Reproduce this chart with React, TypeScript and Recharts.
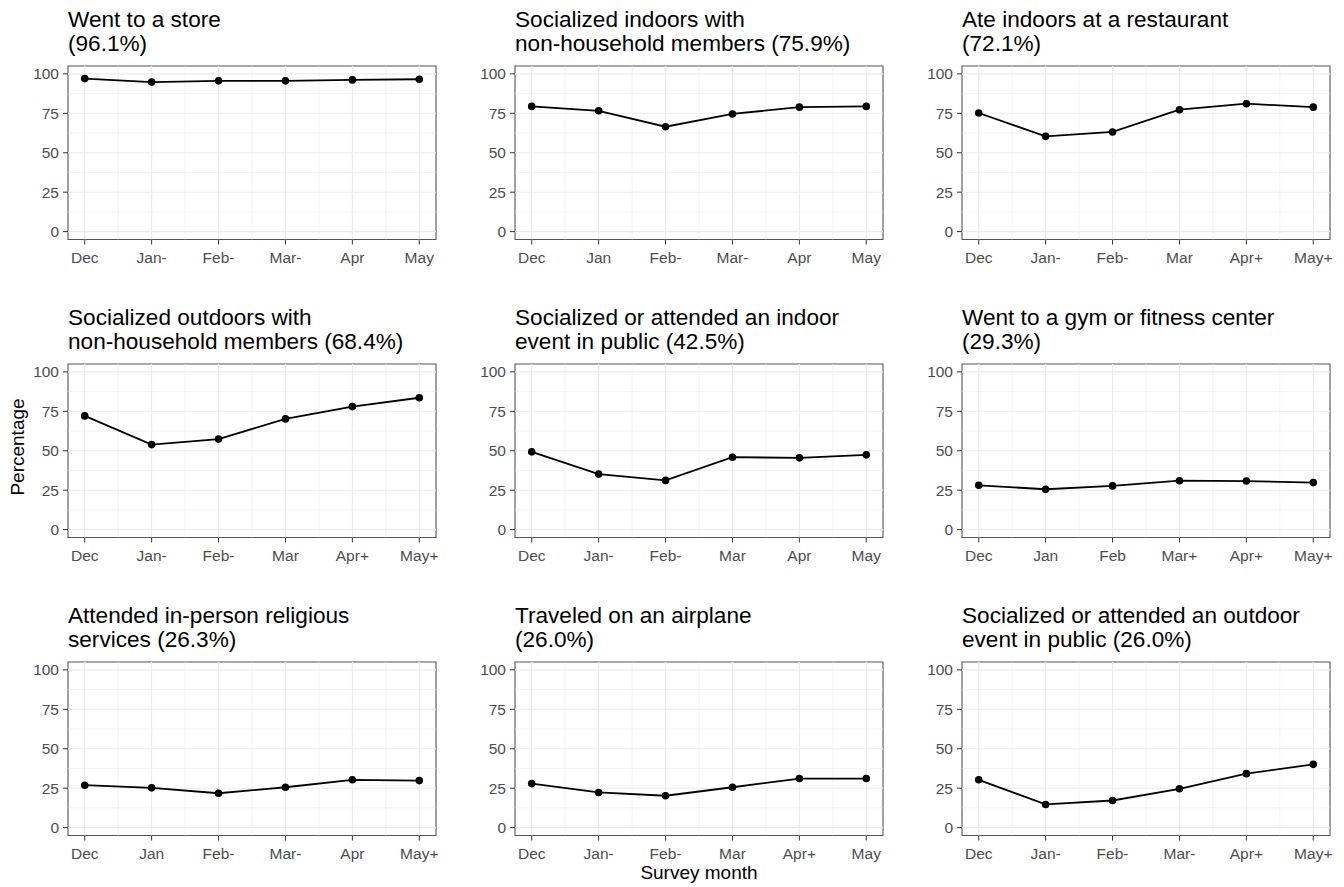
import React from 'react';
import { LineChart, Line, XAxis, YAxis, ReferenceLine, ReferenceArea } from 'recharts';

const FONT = '"Liberation Sans", Arial, Helvetica, sans-serif';

const MONTH_POS = [1, 2, 3, 4, 5, 6];
const Y_TICKS = [0, 25, 50, 75, 100];
const Y_MINOR = [12.5, 37.5, 62.5, 87.5];
const X_MINOR = [1.5, 2.5, 3.5, 4.5, 5.5];

const TITLES_LINE1 = [
  'Went to a store',
  'Socialized indoors with',
  'Ate indoors at a restaurant',
  'Socialized outdoors with',
  'Socialized or attended an indoor',
  'Went to a gym or fitness center',
  'Attended in-person religious',
  'Traveled on an airplane',
  'Socialized or attended an outdoor',
];
const TITLES_LINE2 = [
  '(96.1%)',
  'non-household members (75.9%)',
  '(72.1%)',
  'non-household members (68.4%)',
  'event in public (42.5%)',
  '(29.3%)',
  'services (26.3%)',
  '(26.0%)',
  'event in public (26.0%)',
];

const LABELS_STORE = ['Dec', 'Jan-', 'Feb-', 'Mar-', 'Apr', 'May'];
const LABELS_INDOORS = ['Dec', 'Jan', 'Feb-', 'Mar-', 'Apr', 'May'];
const LABELS_RESTAURANT = ['Dec', 'Jan-', 'Feb-', 'Mar', 'Apr+', 'May+'];
const LABELS_OUTDOORS = ['Dec', 'Jan-', 'Feb-', 'Mar', 'Apr+', 'May+'];
const LABELS_INDOOR_EVENT = ['Dec', 'Jan-', 'Feb-', 'Mar', 'Apr', 'May'];
const LABELS_GYM = ['Dec', 'Jan', 'Feb', 'Mar+', 'Apr+', 'May+'];
const LABELS_RELIGIOUS = ['Dec', 'Jan', 'Feb-', 'Mar-', 'Apr', 'May+'];
const LABELS_AIRPLANE = ['Dec', 'Jan-', 'Feb-', 'Mar', 'Apr+', 'May'];
const LABELS_OUTDOOR_EVENT = ['Dec', 'Jan-', 'Feb-', 'Mar-', 'Apr+', 'May+'];

const VALUES_STORE = [97.0, 94.8, 95.6, 95.6, 96.2, 96.6];
const VALUES_INDOORS = [79.4, 76.6, 66.5, 74.6, 78.9, 79.4];
const VALUES_RESTAURANT = [75.2, 60.4, 63.2, 77.3, 81.1, 78.9];
const VALUES_OUTDOORS = [72.1, 53.9, 57.4, 70.2, 78.0, 83.6];
const VALUES_INDOOR_EVENT = [49.3, 35.2, 31.2, 45.9, 45.5, 47.4];
const VALUES_GYM = [28.1, 25.6, 27.7, 31.0, 30.8, 29.8];
const VALUES_RELIGIOUS = [26.9, 25.2, 21.8, 25.6, 30.3, 29.8];
const VALUES_AIRPLANE = [27.9, 22.3, 20.2, 25.6, 31.1, 31.1];
const VALUES_OUTDOOR_EVENT = [30.3, 14.7, 17.2, 24.6, 34.2, 40.1];

const PANEL_LABELS = [
  LABELS_STORE, LABELS_INDOORS, LABELS_RESTAURANT,
  LABELS_OUTDOORS, LABELS_INDOOR_EVENT, LABELS_GYM,
  LABELS_RELIGIOUS, LABELS_AIRPLANE, LABELS_OUTDOOR_EVENT,
];
const PANEL_VALUES = [
  VALUES_STORE, VALUES_INDOORS, VALUES_RESTAURANT,
  VALUES_OUTDOORS, VALUES_INDOOR_EVENT, VALUES_GYM,
  VALUES_RELIGIOUS, VALUES_AIRPLANE, VALUES_OUTDOOR_EVENT,
];

const COL_LEFT = [68, 515, 962];
const ROW_TOP = [66, 364, 662];
const PLOT_W = 368;
const PLOT_H = 173.5;
const Y_AXIS_W = 60;
const X_AXIS_H = 35;
const M_TOP = 5;
const M_RIGHT = 5;

const GRID = '#ebebeb';
const INK = '#333333';
const TICK_FONT = 15.5;

function Panel({ idx }: { idx: number }) {
  const col = idx % 3;
  const row = Math.floor(idx / 3);
  const labels = PANEL_LABELS[idx];
  const values = PANEL_VALUES[idx];
  const data = MONTH_POS.map((x, i) => ({ x, v: values[i] }));
  const left = COL_LEFT[col] - Y_AXIS_W;
  const top = ROW_TOP[row] - M_TOP;
  return (
    <div style={{ position: 'absolute', left, top }}>
      <LineChart
        width={Y_AXIS_W + PLOT_W + M_RIGHT}
        height={M_TOP + PLOT_H + X_AXIS_H}
        data={data}
        margin={{ top: M_TOP, right: M_RIGHT, left: 0, bottom: 0 }}
      >
        <XAxis
          dataKey="x"
          type="number"
          domain={[0.75, 6.25]}
          ticks={MONTH_POS}
          interval={0}
          allowDataOverflow
          height={X_AXIS_H}
          axisLine={false}
          tickLine={{ stroke: INK, strokeWidth: 1 }}
          tickSize={5}
          tickMargin={7}
          tickFormatter={(v: number) => labels[v - 1]}
          tick={{ fill: '#4d4d4d', fontSize: TICK_FONT, fontFamily: FONT }}
        />
        <YAxis
          type="number"
          domain={[-5, 105]}
          ticks={Y_TICKS}
          interval={0}
          allowDataOverflow
          width={Y_AXIS_W}
          axisLine={false}
          tickLine={{ stroke: INK, strokeWidth: 1 }}
          tickSize={5}
          tickMargin={4}
          tick={{ fill: '#4d4d4d', fontSize: TICK_FONT, fontFamily: FONT }}
        />
        {Y_MINOR.map((y) => (
          <ReferenceLine key={'ym' + y} y={y} stroke={GRID} strokeWidth={0.6} />
        ))}
        {X_MINOR.map((x) => (
          <ReferenceLine key={'xm' + x} x={x} stroke={GRID} strokeWidth={0.6} />
        ))}
        {Y_TICKS.map((y) => (
          <ReferenceLine key={'yM' + y} y={y} stroke={GRID} strokeWidth={1.1} />
        ))}
        {MONTH_POS.map((x) => (
          <ReferenceLine key={'xM' + x} x={x} stroke={GRID} strokeWidth={1.1} />
        ))}
        <ReferenceArea
          x1={0.75}
          x2={6.25}
          y1={-5}
          y2={105}
          fill="none"
          fillOpacity={0}
          stroke="#555555"
          strokeWidth={1.1}
        />
        <Line
          type="linear"
          dataKey="v"
          stroke="#000000"
          strokeWidth={1.8}
          dot={{ r: 3.8, fill: '#000000', stroke: '#000000', strokeWidth: 0 }}
          activeDot={false}
          isAnimationActive={false}
        />
      </LineChart>
    </div>
  );
}

export default function App() {
  return (
    <div style={{ position: 'absolute', left: 0, top: 0, width: 1344, height: 887, background: '#ffffff' }}>
      <svg
        width={1344}
        height={887}
        style={{ position: 'absolute', left: 0, top: 0 }}
        fontFamily={FONT}
      >
        {TITLES_LINE1.map((t, i) => {
          const col = i % 3;
          const row = Math.floor(i / 3);
          return (
            <g key={'t' + i}>
              <text x={COL_LEFT[col]} y={ROW_TOP[row] - 39} fontSize={22.6} fill="#000">{t}</text>
              <text x={COL_LEFT[col]} y={ROW_TOP[row] - 15.5} fontSize={22.6} fill="#000">{TITLES_LINE2[i]}</text>
            </g>
          );
        })}
        <text x={699} y={879} fontSize={19} textAnchor="middle" fill="#000">Survey month</text>
        <text transform="translate(24,447) rotate(-90)" fontSize={19} textAnchor="middle" fill="#000">Percentage</text>
      </svg>
      {PANEL_VALUES.map((_, i) => (
        <Panel key={i} idx={i} />
      ))}
    </div>
  );
}
